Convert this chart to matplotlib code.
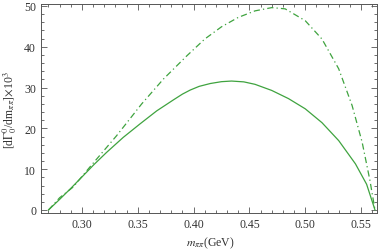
import matplotlib
matplotlib.use("Agg")
import matplotlib.pyplot as plt
from matplotlib.ticker import MultipleLocator

# solid curve
m_solid = [0.270, 0.280, 0.290, 0.300, 0.311, 0.322, 0.337, 0.352, 0.367, 0.382,
           0.390, 0.397, 0.405, 0.415, 0.425, 0.434, 0.445, 0.455, 0.470, 0.485,
           0.500, 0.515, 0.530, 0.545, 0.555, 0.5625]
g_solid = [0.0, 2.6, 5.3, 8.1, 11.2, 14.1, 17.8, 21.1, 24.3, 27.0,
           28.4, 29.4, 30.3, 31.0, 31.45, 31.6, 31.4, 30.8, 29.3, 27.3,
           24.8, 21.4, 17.0, 11.3, 6.3, 0.0]

# dash-dotted curve
m_dd = [0.270, 0.280, 0.292, 0.307, 0.331, 0.3535, 0.373, 0.394, 0.410, 0.425,
        0.440, 0.455, 0.470, 0.482, 0.500, 0.515, 0.530, 0.542, 0.551, 0.558, 0.5625]
g_dd = [0.0, 3.0, 5.6, 10.5, 18.2, 26.0, 32.1, 37.8, 41.9, 44.9,
        47.2, 48.8, 49.6, 49.3, 46.4, 41.9, 34.6, 25.6, 16.6, 7.2, 0.0]

plt.rcParams['font.family'] = ['Liberation Serif', 'DejaVu Serif']
plt.rcParams['mathtext.fontset'] = 'stix'

green = '#3fa33f'
grey = '#555555'

fig = plt.figure(figsize=(3.82, 2.53), dpi=100)
ax = fig.add_axes([41/382, 1-214/253, 336/382, 209.3/253])

ax.plot(m_solid, g_solid, color=green, lw=0.9)
ax.plot(m_dd, g_dd, color=green, lw=0.9, linestyle=(0, (5, 2.5, 1, 2.5)))

ax.set_xlim(0.2633, 0.5643)
ax.set_ylim(-0.74, 50.56)

ax.xaxis.set_major_locator(MultipleLocator(0.05))
ax.xaxis.set_minor_locator(MultipleLocator(0.01))
ax.yaxis.set_major_locator(MultipleLocator(10))
ax.yaxis.set_minor_locator(MultipleLocator(2))
ax.xaxis.set_major_formatter(plt.FuncFormatter(lambda v, p: f"{v:.2f}"))

ax.tick_params(which='both', direction='in', top=True, right=True,
               color=grey, labelsize=8.5, labelcolor='#333333', width=0.6)
ax.tick_params(which='major', length=4)
ax.tick_params(which='minor', length=2)
for s in ax.spines.values():
    s.set_color(grey)
    s.set_linewidth(0.7)

ax.set_ylabel(r"[d$\Gamma_0^0$/dm$_{\pi\pi}$]$\times$10$^3$", fontsize=8.5, color='#333333')
ax.yaxis.set_label_coords(-0.066, 0.497)
ax.set_xlabel(r"$m_{\pi\pi}$(GeV)", fontsize=8.5, color='#333333')
ax.xaxis.set_label_coords(0.503, -0.105)

plt.savefig("out.png", dpi=100)
